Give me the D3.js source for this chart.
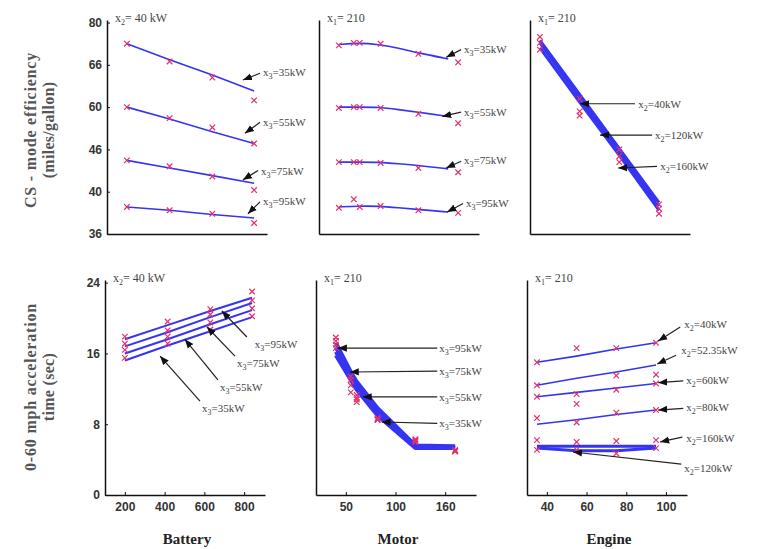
<!DOCTYPE html>
<html>
<head>
<meta charset="utf-8">
<script src="https://cdn.jsdelivr.net/npm/d3@7"></script>
<style>
body { margin: 0; background: #fff; }
</style>
</head>
<body>
<div id="chart"></div>
<script>
// x values
const battery = [200, 415, 630, 840];
const motor = [40, 55, 61, 82, 120, 160];
const motorFit = [40, 60, 80, 100, 120, 150];
const engine = [35, 55, 75, 95];

// ticks (labels as printed in the figure)
const batteryTicks = [200, 400, 600, 800];
const batteryTickLabels = ['200', '400', '600', '800'];
const motorTicks = [50, 100, 150];
const motorTickLabels = ['50', '100', '160'];
const engineTicks = [40, 60, 80, 100];
const engineTickLabels = ['40', '60', '80', '100'];
const effTicks = [35, 40, 45, 50, 55, 60];
const effTickLabels = ['36', '40', '46', '60', '66', '80'];
const accTicks = [0, 8, 16, 24];
const accTickLabels = ['0', '8', '16', '24'];

// CS-mode efficiency vs battery (x2 = 40 kW), one row per x3 = 35,55,75,95
const effBatLine = [[57.5, 55.6, 53.8, 51.9], [50.0, 48.6, 47.1, 45.7], [43.7, 42.8, 41.9, 41.0], [38.2, 37.8, 37.3, 36.9]];
const effBatPts = [[57.5, 55.4, 53.5, 50.8], [50.0, 48.7, 47.6, 45.7], [43.7, 43.0, 41.8, 40.2], [38.2, 37.8, 37.4, 36.3]];
// efficiency vs motor (x1 = 210)
const effMotLine = [[57.4, 57.6, 57.4, 57.0, 56.4, 55.7], [50.0, 50.0, 50.0, 49.7, 49.4, 48.9], [43.5, 43.5, 43.5, 43.3, 43.1, 42.7], [38.2, 38.3, 38.3, 38.1, 37.9, 37.6]];
const effMotPts = [[57.3, 57.6, 57.6, 57.5, 56.3, 55.3], [49.9, 50.0, 50.0, 49.9, 49.2, 48.1], [43.5, 43.5, 43.5, 43.4, 42.8, 42.3], [38.1, 39.1, 38.2, 38.3, 37.8, 37.5]];
// efficiency vs engine (x1 = 210), x2 = 40,120,160
const effEngLine = [[57.9, 51.5, 45.1, 38.7], [57.6, 51.1, 44.7, 38.3], [57.0, 50.6, 44.3, 37.8]];
const effEngPts = [[58.3, 51.0, 45.0, 38.5], [57.6, 49.0, 44.2, 38.0], [56.8, 49.5, 43.5, 37.4]];

// 0-60 acceleration vs battery (x2 = 40 kW), x3 = 95,75,55,35
const accBatLine = [[17.6, 19.2, 20.8, 22.3], [16.8, 18.4, 20.1, 21.7], [16.0, 17.6, 19.3, 20.9], [15.2, 16.9, 18.5, 20.1]];
const accBatPts = [[17.9, 19.6, 21.0, 23.0], [17.1, 18.6, 20.4, 22.0], [16.4, 17.9, 19.5, 21.1], [15.5, 17.1, 18.7, 20.2]];
// acceleration vs motor (x1 = 210)
const accMotLine = [[17.2, 13.9, 12.8, 9.8, 5.6, 5.5], [16.7, 13.6, 12.5, 9.5, 5.5, 5.4], [16.2, 13.3, 12.2, 9.2, 5.4, 5.3], [15.8, 13.0, 11.9, 9.0, 5.3, 5.3]];
const accMotPts = [[17.8, 13.4, 11.3, 8.7, 6.3, 5.1], [17.4, 13.0, 11.0, 8.6, 6.2, 5.0], [17.0, 12.4, 10.8, 8.5, 6.1, 5.0], [16.6, 11.6, 10.5, 8.5, 6.0, 4.9]];
// acceleration vs engine (x1 = 210), x2 = 40,52.35,60,80,160,120
const accEngLine = [[15.0, 15.7, 16.5, 17.2], [12.4, 13.2, 13.9, 14.7], [11.1, 11.6, 12.1, 12.6], [8.0, 8.5, 9.1, 9.6], [5.5, 5.5, 5.5, 5.5], [5.3, 5.0, 5.0, 5.3]];
const accEngPts = [[15.0, 16.6, 16.6, 17.2], [12.4, 11.4, 13.5, 13.6], [11.1, 10.3, 11.9, 12.6], [8.7, 8.2, 9.3, 9.6], [6.2, 6.0, 6.1, 6.2], [5.1, 5.1, 4.7, 5.3]];

// annotations: [subscript, rest, textX, textY, tailX, tailY, headX, headY] in data units
const effBatNotes = [
  ['3', '=35kW', 885, 54.1, 870, 54.0, 784, 53.2],
  ['3', '=55kW', 885, 48.2, 870, 48.2, 794, 46.9],
  ['3', '=75kW', 875, 42.5, 860, 42.5, 784, 41.4],
  ['3', '=95kW', 885, 38.9, 870, 38.8, 809, 37.4]
];
const effMotNotes = [
  ['3', '=35kW', 166, 56.9, 163, 56.8, 148, 55.9],
  ['3', '=55kW', 166, 49.4, 163, 49.4, 144, 48.9],
  ['3', '=75kW', 166, 43.7, 163, 43.6, 148, 42.8],
  ['3', '=95kW', 168, 38.7, 165, 38.6, 149, 37.6]
];
const effEngNotes = [
  ['2', '=40kW', 84.5, 50.4, 82.9, 50.4, 55.2, 50.4],
  ['2', '=120kW', 93.0, 46.7, 91.5, 46.7, 65.3, 46.7],
  ['2', '=160kW', 95.6, 43.0, 94.0, 43.0, 74.4, 42.8]
];
const accBatNotes = [
  ['3', '=95kW', 854, 17.07, 814, 17.86, 688, 20.8],
  ['3', '=75kW', 764, 14.92, 754, 15.7, 613, 18.99],
  ['3', '=55kW', 678, 12.2, 668, 13.0, 502, 17.6],
  ['3', '=35kW', 588, 9.83, 578, 10.6, 377, 15.7]
];
const accMotNotes = [
  ['3', '=95kW', 144, 16.6, 142, 16.6, 42, 16.6],
  ['3', '=75kW', 144, 14.0, 142, 14.0, 54, 13.9],
  ['3', '=55kW', 144, 11.1, 142, 11.1, 67, 11.1],
  ['3', '=35kW', 144, 8.1, 142, 8.1, 86, 8.25]
];
const accEngNotes = [
  ['2', '=40kW', 109.2, 19.3, 107.2, 19.0, 96.1, 17.4],
  ['2', '=52.35kW', 107.7, 16.4, 105.1, 15.8, 95.6, 14.8],
  ['2', '=60kW', 110.2, 13.0, 108.7, 12.9, 96.1, 12.7],
  ['2', '=80kW', 110.2, 9.95, 108.7, 9.8, 96.1, 9.6],
  ['2', '=160kW', 110.2, 6.4, 108.2, 6.55, 97.1, 6.0],
  ['2', '=120kW', 109.2, 3.05, 107.7, 3.5, 53.2, 4.86]
];

const W = 764, H = 549;
const blue = '#3434f2';
const red = '#e4306c';

const svg = d3.select('#chart').append('svg')
  .attr('width', W)
  .attr('height', H);

svg.append('defs').append('marker')
  .attr('id', 'ah')
  .attr('viewBox', '0 -5 10 10')
  .attr('refX', 10)
  .attr('refY', 0)
  .attr('markerWidth', 9)
  .attr('markerHeight', 9)
  .attr('markerUnits', 'userSpaceOnUse')
  .attr('orient', 'auto')
  .append('path')
  .attr('d', 'M0,-4L10,0L0,4Z')
  .attr('fill', '#111');

const cols = [
  { dom: [100, 905], ticks: batteryTicks, labels: batteryTickLabels, name: 'Battery' },
  { dom: [20, 181], ticks: motorTicks, labels: motorTickLabels, name: 'Motor' },
  { dom: [30, 110.6], ticks: engineTicks, labels: engineTickLabels, name: 'Engine' }
];
const rows = [
  { lefts: [107, 319, 530], top: 20, bottom: 234, dom: [35, 60.3], ticks: effTicks, labels: effTickLabels },
  { lefts: [105, 316, 527], top: 280, bottom: 495, dom: [0, 24.3], ticks: accTicks, labels: accTickLabels }
];

const panels = [
  { row: 0, col: 0, title: ['2', '= 40 kW'], xs: battery, lx: battery, lines: effBatLine, pts: effBatPts, notes: effBatNotes, lw: 1.6, curve: d3.curveLinear },
  { row: 0, col: 1, title: ['1', '= 210'], xs: motor, lx: motorFit, lines: effMotLine, pts: effMotPts, notes: effMotNotes, lw: 1.6, curve: d3.curveBasis },
  { row: 0, col: 2, title: ['1', '= 210'], xs: engine, lx: engine, lines: effEngLine, pts: effEngPts, notes: effEngNotes, lw: 3, curve: d3.curveLinear },
  { row: 1, col: 0, title: ['2', '= 40 kW'], xs: battery, lx: battery, lines: accBatLine, pts: accBatPts, notes: accBatNotes, lw: 2, curve: d3.curveLinear },
  { row: 1, col: 1, title: ['1', '= 210'], xs: motor, lx: motor, lines: accMotLine, pts: accMotPts, notes: accMotNotes, lw: 4, curve: d3.curveLinear },
  { row: 1, col: 2, title: ['1', '= 210'], xs: engine, lx: engine, lines: accEngLine, pts: accEngPts, notes: accEngNotes, lw: 1.6, curve: d3.curveLinear }
];

function subText(sel, sub, rest) {
  sel.append('tspan').text('x');
  sel.append('tspan').attr('dy', 3).attr('font-size', 8).text(sub);
  sel.append('tspan').attr('dy', -3).text(rest);
}

panels.forEach(p => {
  const row = rows[p.row], col = cols[p.col];
  const left = row.lefts[p.col];
  const x = d3.scaleLinear().domain(col.dom).range([left, left + 160]);
  const y = d3.scaleLinear().domain(row.dom).range([row.bottom, row.top]);
  const g = svg.append('g');

  // lines
  const line = d3.line().x(d => x(d[0])).y(d => y(d[1])).curve(p.curve);
  p.lines.forEach((vals, k) => {
    let w = p.lw;
    if (p.row === 1 && p.col === 2 && k >= 4) w = 3;
    g.append('path')
      .datum(p.lx.map((v, i) => [v, vals[i]]))
      .attr('d', line)
      .attr('fill', 'none')
      .attr('stroke', blue)
      .attr('stroke-width', w)
      .attr('stroke-linejoin', 'round');
  });

  // markers
  const sym = d3.symbol().type(d3.symbolTimes).size(22);
  p.pts.forEach(vals => {
    g.selectAll(null)
      .data(p.xs.map((v, i) => [v, vals[i]]))
      .enter()
      .append('path')
      .attr('d', sym)
      .attr('transform', d => 'translate(' + x(d[0]) + ',' + y(d[1]) + ')')
      .attr('fill', 'none')
      .attr('stroke', red)
      .attr('stroke-width', 1.2);
  });

  // arrows + labels
  p.notes.forEach(a => {
    g.append('line')
      .attr('x1', x(a[4])).attr('y1', y(a[5]))
      .attr('x2', x(a[6])).attr('y2', y(a[7]))
      .attr('stroke', '#222')
      .attr('stroke-width', 1.2)
      .attr('marker-end', 'url(#ah)');
    const t = g.append('text')
      .attr('x', x(a[2]))
      .attr('y', y(a[3]) + 4)
      .attr('font-family', 'Liberation Serif, serif')
      .attr('font-size', 11)
      .attr('fill', '#444');
    subText(t, a[0], a[1]);
  });

  // axes
  const xa = d3.axisBottom(x).tickSizeOuter(0);
  if (p.row === 1) {
    xa.tickValues(col.ticks).tickFormat((d, i) => col.labels[i]).tickSizeInner(-3).tickPadding(7);
  } else {
    xa.tickValues([]);
  }
  const gx = g.append('g').attr('transform', 'translate(0,' + row.bottom + ')').call(xa);
  const ya = d3.axisLeft(y).tickSizeOuter(0);
  if (p.col === 0) {
    ya.tickValues(row.ticks).tickFormat((d, i) => row.labels[i]).tickSizeInner(-3).tickPadding(5);
  } else {
    ya.tickValues([]);
  }
  const gy = g.append('g').attr('transform', 'translate(' + left + ',0)').call(ya);
  [gx, gy].forEach(a => {
    a.select('.domain').attr('stroke', '#111').attr('stroke-width', 1.5);
    a.selectAll('.tick line').attr('stroke', '#111');
    a.selectAll('.tick text')
      .attr('font-family', 'Liberation Sans, Arial, sans-serif')
      .attr('font-weight', 'bold')
      .attr('font-size', 12)
      .attr('fill', '#333');
  });

  // panel title
  const tt = g.append('text')
    .attr('x', left + 8)
    .attr('y', row.top + 2)
    .attr('font-family', 'Liberation Serif, serif')
    .attr('font-size', 12)
    .attr('fill', '#444');
  subText(tt, p.title[0], p.title[1]);

  if (p.row === 1) {
    svg.append('text')
      .attr('x', left + 82)
      .attr('y', 544)
      .attr('text-anchor', 'middle')
      .attr('font-family', 'Liberation Serif, serif')
      .attr('font-weight', 'bold')
      .attr('font-size', 15)
      .attr('fill', '#222')
      .text(col.name);
  }
});

// y-axis titles
const yTitles = [
  ['CS - mode efficiency', '(miles/gallon)', 130],
  ['0-60 mph acceleration', 'time (sec)', 387]
];
yTitles.forEach(t => {
  [[t[0], 36, 0.8], [t[1], 54, 0.3]].forEach(s => {
    svg.append('text')
      .attr('transform', 'translate(' + s[1] + ',' + t[2] + ') rotate(-90)')
      .attr('text-anchor', 'middle')
      .attr('font-family', 'Liberation Serif, serif')
      .attr('font-weight', 'bold')
      .attr('font-size', 16)
      .attr('letter-spacing', s[2])
      .attr('fill', '#555')
      .text(s[0]);
  });
});
</script>
</body>
</html>
